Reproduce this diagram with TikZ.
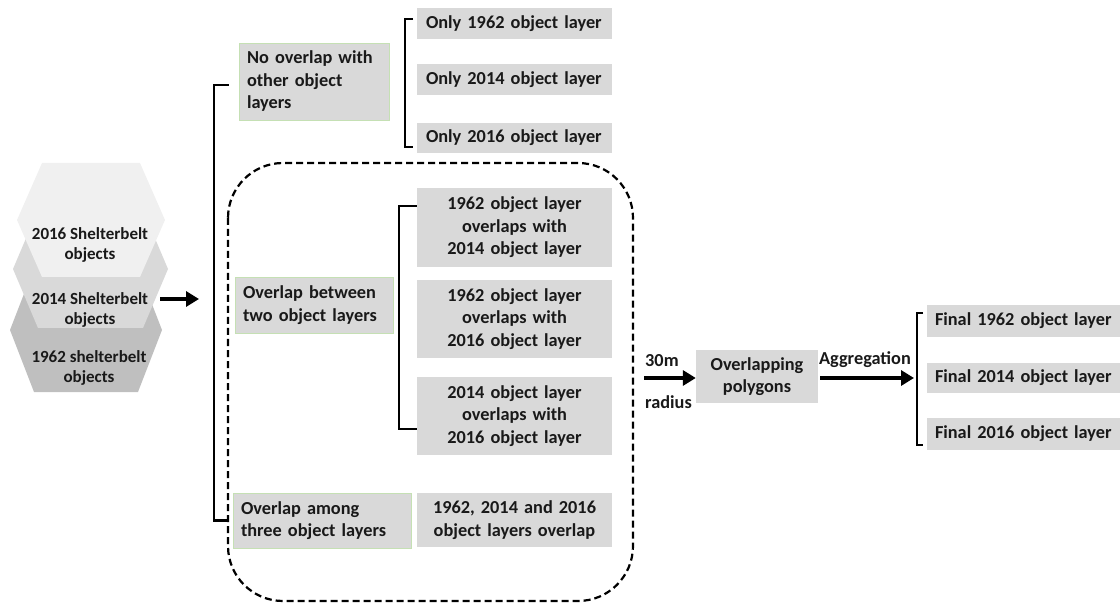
\documentclass[tikz,border=0pt]{standalone}
\usepackage{fontspec}
\setmainfont{Carlito}
\usetikzlibrary{arrows.meta}
\definecolor{boxgray}{HTML}{D9D9D9}
\definecolor{hexA}{HTML}{F0F0F0}
\definecolor{hexB}{HTML}{D9D9D9}
\definecolor{hexC}{HTML}{BFBFBF}
\definecolor{greenedge}{HTML}{C5E0B4}
\begin{document}
\begin{tikzpicture}[x=1pt,y=-1pt,
  txt/.style={font=\fontsize{18.3}{22.5}\selectfont\bfseries, text=black!90},
  graybox/.style={txt, fill=boxgray, draw=none, inner ysep=0pt},
  leftbox/.style={graybox, align=left, inner xsep=9pt, text width=177pt},
  midbox/.style={graybox, align=center, inner xsep=9pt, text width=177pt},
  catbox/.style={txt, fill=boxgray, draw=greenedge, line width=0.8pt, align=left, inner xsep=8pt, inner ysep=0pt},
  finalbox/.style={graybox, align=left, inner xsep=8pt, text width=177pt},
  hextxt/.style={font=\fontsize{17}{20}\selectfont\bfseries, text=black!90, align=center, inner sep=0pt},
  brk/.style={draw=black, line width=2.2pt},
  fatarrow/.style={draw=black, line width=3.5pt, -{Triangle[length=13pt,width=15pt]}},
  dashbox/.style={draw=black, line width=2.2pt, dash pattern=on 7pt off 4pt, rounded corners=55pt},
  lbl/.style={txt, inner sep=0pt}
]
\useasboundingbox (0,0) rectangle (1120,604);

% hexagons
\fill[hexC] (10,330) -- (34,268) -- (138,268) -- (162,330) -- (138,392) -- (34,392) -- cycle;
\fill[hexB] (13,269) -- (38,210) -- (143,210) -- (168,269) -- (143,328) -- (38,328) -- cycle;
\fill[hexA] (17,220) -- (42,163) -- (140,163) -- (165,220) -- (140,277) -- (42,277) -- cycle;
\node[hextxt] (h16) at (90,245) {2016 Shelterbelt\\objects};
\node[hextxt] (h14) at (90,310) {2014 Shelterbelt\\objects};
\node[hextxt] (h62) at (89,368) {1962 shelterbelt\\objects};
\coordinate (hexout) at (160,299);
\coordinate (hexin) at (199,299);
\draw[fatarrow] (hexout) -- (hexin);

% dashed group
\draw[dashbox] (228,163) rectangle (633,601);

% category boxes
\node[catbox, text width=134pt, minimum height=77pt] (nolap) at (314,81.5) {No overlap with\\other object\\layers};
\node[catbox, text width=142pt, minimum height=56pt] (two) at (314,305) {Overlap between\\two object layers};
\node[catbox, text width=162pt, minimum height=55pt] (three) at (322,520.5) {Overlap among\\three object layers};

% only boxes
\node[leftbox, minimum height=31pt] (only62) at (514.5,23.5) {Only 1962 object layer};
\node[leftbox, minimum height=31pt] (only14) at (514.5,79.5) {Only 2014 object layer};
\node[leftbox, minimum height=30pt] (only16) at (514.5,138) {Only 2016 object layer};

% overlap boxes
\node[midbox, minimum height=79pt] (ov1) at (514.5,227.5) {1962 object layer\\overlaps with\\2014 object layer};
\node[midbox, minimum height=78pt] (ov2) at (514.5,319) {1962 object layer\\overlaps with\\2016 object layer};
\node[midbox, minimum height=78pt] (ov3) at (514.5,416) {2014 object layer\\overlaps with\\2016 object layer};
\node[midbox, minimum height=54pt] (ov4) at (514.5,520) {1962, 2014 and 2016\\object layers overlap};

% polygons
\node[graybox, align=center, minimum width=122pt, minimum height=53pt, inner xsep=0pt] (poly) at (757,376.5) {Overlapping\\polygons};

% final boxes
\node[finalbox, minimum height=32pt] (f62) at (1023.5,321) {Final 1962 object layer};
\node[finalbox, minimum height=30pt] (f14) at (1023.5,378) {Final 2014 object layer};
\node[finalbox, minimum height=32pt] (f16) at (1023.5,434) {Final 2016 object layer};

% brackets
\draw[brk] ([xshift=-10pt]nolap.west |- 0,85) -- (214,85) |- ([xshift=-6pt]three.west);
\draw[brk] (413,19) -- (405,19) -- (405,147) -- (413,147);
\draw[brk] (ov1.west |- 0,206) -- (399,206) -- (399,429) -- (ov3.west |- 0,429);
\draw[brk] (923,313) -- (917,313) -- (917,445) -- (923,445);

% arrows
\coordinate (rin) at (644,378);
\draw[fatarrow] (rin) -- (poly.west |- rin);
\coordinate (aggend) at (914,378);
\draw[fatarrow] ([xshift=2pt]poly.east |- aggend) -- (aggend);
\node[lbl, anchor=west] (l30) at (645,361) {30m};
\node[lbl, anchor=west] (lrad) at (645,402) {radius};
\node[lbl] (lagg) at (865,360) {Aggregation};
\end{tikzpicture}
\end{document}
